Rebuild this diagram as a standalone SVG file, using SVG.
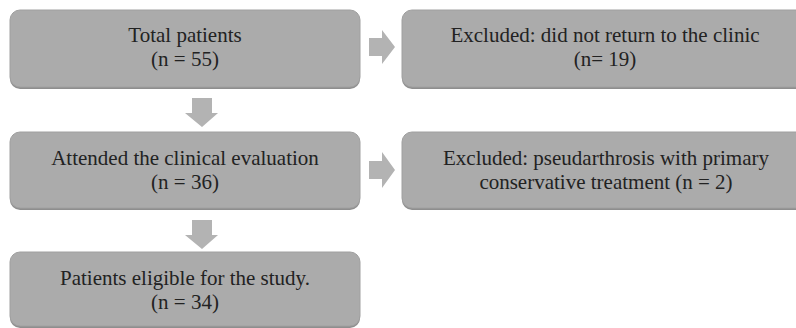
<svg xmlns="http://www.w3.org/2000/svg" width="796" height="328" viewBox="0 0 796 328">
<style>
.box{fill:#ababab;stroke:#a0a0a0;stroke-width:1}
.shadow{fill:#8e8e8e}
.arr{fill:#b3b3b3}
.t{font-family:"Liberation Serif","Times New Roman",serif;font-size:21px;fill:#222;text-anchor:middle}
</style>
<rect width="796" height="328" fill="#ffffff"/>
<g id="n1">
<rect class="shadow" x="10" y="12" width="350" height="77" rx="10"/>
<rect class="box" x="10" y="10" width="350" height="77" rx="10"/>
<text class="t" x="185" y="42">Total patients</text>
<text class="t" x="185" y="66">(n = 55)</text>
</g>
<g id="n2">
<rect class="shadow" x="10" y="134" width="350" height="76" rx="10"/>
<rect class="box" x="10" y="132" width="350" height="76" rx="10"/>
<text class="t" x="185" y="165">Attended the clinical evaluation</text>
<text class="t" x="185" y="189">(n = 36)</text>
</g>
<g id="n3">
<rect class="shadow" x="10" y="254" width="350" height="74" rx="10"/>
<rect class="box" x="10" y="252" width="350" height="74" rx="10"/>
<text class="t" x="185" y="285">Patients eligible for the study.</text>
<text class="t" x="185" y="309">(n = 34)</text>
</g>
<g id="n4">
<rect class="shadow" x="402" y="12" width="404" height="77" rx="10"/>
<rect class="box" x="402" y="10" width="404" height="77" rx="10"/>
<text class="t" x="605" y="42">Excluded: did not return to the clinic</text>
<text class="t" x="605" y="66">(n= 19)</text>
</g>
<g id="n5">
<rect class="shadow" x="402" y="134" width="404" height="76" rx="10"/>
<rect class="box" x="402" y="132" width="404" height="76" rx="10"/>
<text class="t" x="606" y="165">Excluded: pseudarthrosis with primary</text>
<text class="t" x="606" y="189">conservative treatment (n = 2)</text>
</g>
<g id="connectors">
<path class="arr" d="M192 98 H212 V113 H218 L202 127 L185 113 H192 Z"/>
<path class="arr" d="M192 220 H212 V235 H218 L202 249 L185 235 H192 Z"/>
<path class="arr" d="M369 38 H382 V30 L395 47 L382 64 V56 H369 Z"/>
<path class="arr" d="M369 161 H382 V152 L395 170 L382 188 V179 H369 Z"/>
</g>
</svg>
